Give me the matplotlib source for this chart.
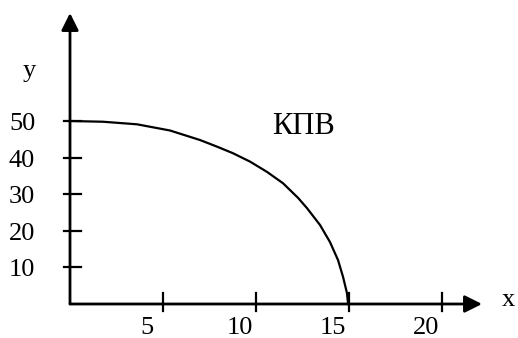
import matplotlib
matplotlib.use('Agg')
import matplotlib.pyplot as plt

# production possibilities curve
curve_x = [0, 1.77, 3.60, 5.38, 6.99, 7.90, 8.76, 9.68, 10.59, 11.45, 12.26,
           12.74, 13.44, 13.98, 14.41, 14.68, 14.89, 14.95]
curve_y = [50, 49.8, 49.1, 47.4, 44.8, 43.0, 41.2, 38.9, 36.1, 33.0, 29.0,
           26.2, 21.6, 16.9, 12.0, 7.4, 3.0, 0]

x_ticks = [5, 10, 15, 20]
y_ticks = [10, 20, 30, 40, 50]
curve_label = 'КПВ'

plt.rcParams['font.family'] = ['Liberation Serif', 'DejaVu Serif']

fig = plt.figure(figsize=(5.18, 3.38), dpi=100)
ax = fig.add_axes([0, 0, 1, 1])
# 18.6 px per x unit, 3.66 px per y unit, origin at pixel (70, 304)
ax.set_xlim(-70 / 18.6, (518 - 70) / 18.6)
ax.set_ylim(-34 / 3.66, 304 / 3.66)
ax.axis('off')

arrow = dict(arrowstyle='-|>', lw=2.0, color='black', mutation_scale=26,
             shrinkA=0, shrinkB=0)
ax.annotate('', xy=(22.15, 0), xytext=(0, 0), arrowprops=arrow)
ax.annotate('', xy=(0, 79.5), xytext=(0, 0), arrowprops=arrow)

# tick marks crossing the axes
for v in x_ticks:
    ax.plot([v, v], [-1.9, 3.0], color='black', lw=1.6)
for v in y_ticks:
    ax.plot([-0.32, 0.59], [v, v], color='black', lw=1.6)

ax.plot(curve_x, curve_y, color='black', lw=1.6, solid_joinstyle='round')

for v in x_ticks:
    ax.text(v - 0.86, -6.6, str(v), ha='center', va='center', fontsize=19)
for v in y_ticks:
    ax.text(-2.58, v - 0.8, str(v), ha='center', va='center', fontsize=19)

ax.text(-2.2, 63.7, 'y', ha='center', va='center', fontsize=19)
ax.text(23.55, 1.1, 'x', ha='center', va='center', fontsize=19)
ax.text(12.53, 48.4, curve_label, ha='center', va='center', fontsize=22)

fig.savefig('out.png', dpi=100)
